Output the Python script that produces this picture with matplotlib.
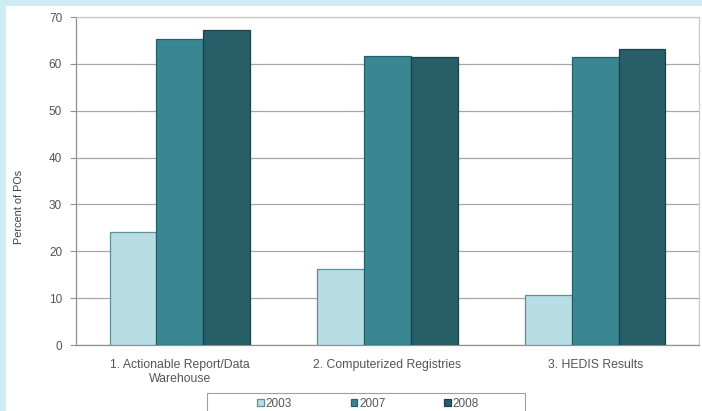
import matplotlib
matplotlib.use("Agg")
import matplotlib.pyplot as plt
import numpy as np
from matplotlib.patches import Rectangle

categories = ["1. Actionable Report/Data\nWarehouse", "2. Computerized Registries", "3. HEDIS Results"]
years = ["2003", "2007", "2008"]
values_2003 = [24.1, 16.3, 10.7]
values_2007 = [65.3, 61.7, 61.4]
values_2008 = [67.2, 61.5, 63.2]
y_ticks = [0, 10, 20, 30, 40, 50, 60, 70]

fills = ["#b8dde5", "#3a8793", "#285e68"]
edges = ["#5f8f98", "#24606a", "#1c4249"]

plt.rcParams["font.family"] = ["Liberation Sans", "DejaVu Sans"]

W, H = 702, 411
fig = plt.figure(figsize=(W / 100, H / 100), dpi=100)
fig.patch.set_facecolor("#cdebf4")
# white slide panel
fig.add_artist(Rectangle((6 / W, 0), 1, 1 - 6 / H, transform=fig.transFigure,
                         facecolor="white", edgecolor="none", zorder=0))

ax = fig.add_axes([76 / W, 66 / H, 623 / W, 328 / H])
ax.set_facecolor("white")

x = np.arange(len(categories))
w = 0.225
series = [values_2003, values_2007, values_2008]
for i, (vals, lab) in enumerate(zip(series, years)):
    ax.bar(x + (i - 1) * w, vals, width=w, color=fills[i], edgecolor=edges[i],
           linewidth=0.9, label=lab, zorder=3)

ax.set_xlim(-0.5, 2.5)
ax.set_ylim(0, 70)
ax.set_yticks(y_ticks)
ax.set_yticklabels([str(t) for t in y_ticks], fontsize=8.5, color="#555555")
ax.yaxis.grid(True, color="#a8a8a8", linewidth=0.9, zorder=0)
ax.tick_params(axis="y", length=4, width=0.8, color="#909090", pad=6)
ax.set_xticks(x)
ax.set_xticklabels(categories, fontsize=8.8, color="#555555", linespacing=1.25)
ax.tick_params(axis="x", length=0, pad=10)

for side in ["top", "right"]:
    ax.spines[side].set_color("#c8c8c8")
    ax.spines[side].set_linewidth(0.9)
ax.spines["left"].set_color("#909090")
ax.spines["bottom"].set_color("#909090")
ax.spines["left"].set_linewidth(0.9)
ax.spines["bottom"].set_linewidth(0.9)

ax.set_ylabel("Percent of POs", fontsize=7.8, color="#404040")
ax.yaxis.set_label_coords(-0.083, 0.42)

# legend strip: frame drawn separately so it can be wider than the entries
fig.add_artist(Rectangle((207 / W, -0.01), 318 / W, 0.01 + 18 / H, transform=fig.transFigure,
                         facecolor="white", edgecolor="#a0a0a0", linewidth=0.8, zorder=4))
leg = fig.legend(loc="center", bbox_to_anchor=(368 / W, 7 / H), ncol=3,
                 fontsize=8.5, frameon=False,
                 handlelength=0.55, handleheight=0.55, handletextpad=0.15,
                 columnspacing=5.0, borderpad=0, borderaxespad=0)
leg.set_zorder(5)
for t in leg.get_texts():
    t.set_color("#555555")

fig.savefig("out.png", dpi=100, facecolor=fig.get_facecolor())
